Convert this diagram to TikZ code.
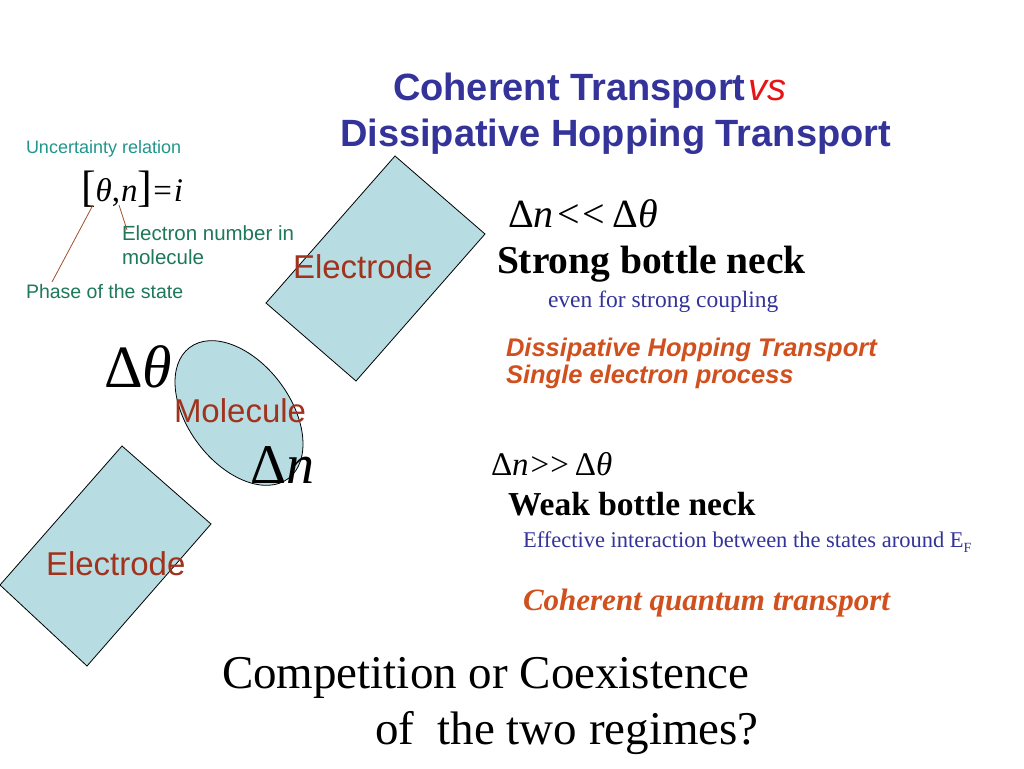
\documentclass[tikz,border=0pt]{standalone}
\usepackage{fontspec}
\setmainfont{Liberation Serif}
\setsansfont{Liberation Sans}
\definecolor{titleblue}{HTML}{333399}
\definecolor{vsred}{HTML}{E61414}
\definecolor{tealA}{HTML}{20968C}
\definecolor{tealB}{HTML}{1E785A}
\definecolor{linebrown}{HTML}{A0502F}
\definecolor{eltext}{HTML}{A0321E}
\definecolor{shapefill}{HTML}{B7DDE2}
\definecolor{orng}{HTML}{D0501E}
\newcommand{\fsz}[1]{\fontsize{#1}{#1}\selectfont}
\tikzset{
  txt/.style={anchor=base west, inner sep=0pt, outer sep=0pt},
  shapebox/.style={fill=shapefill, draw=black, line width=0.8pt, line join=miter},
  callout/.style={draw=linebrown, line width=0.8pt},
  partlabel/.style={txt, font=\sffamily\fsz{33}, text=eltext},
}
\begin{document}
\begin{tikzpicture}[x=1pt,y=-1pt]
\useasboundingbox (0,0) rectangle (1024,768);
\fill[white] (0,0) rectangle (1024,768);
% shapes
\draw[shapebox] (395,156) -- (485,234) -- (356,381) -- (266,303) -- cycle;
\draw[shapebox] (122,446) -- (211,524) -- (87,666) -- (0,585) -- cycle;
\draw[shapebox, rotate around={-53:(239,413)}] (239,413) ellipse [x radius=82, y radius=51];
% title
\node[txt, font=\sffamily\bfseries\fsz{38}, text=titleblue] (t1) at (393,100) {Coherent Transport\kern3pt\textcolor{vsred}{\mdseries\itshape vs}};
\node[txt, font=\sffamily\bfseries\fsz{38}, text=titleblue] (t2) at (340,146) {Dissipative Hopping Transport};
% uncertainty relation
\node[txt, font=\sffamily\fsz{18}, text=tealA] (ur) at (26,153) {Uncertainty relation};
\node[txt] (eq) at (81,201) {\fsz{33}{\fsz{44}[}\textit{θ},\kern1pt\textit{n}{\fsz{44}]}\kern1pt=\kern2pt\textit{i}};
\coordinate (thetapt) at (93,205);
\coordinate (npt) at (119,205);
\node[txt, font=\sffamily\fsz{20.5}, text=tealB, align=left] (en) at (122,240) {Electron number in};
\node[txt, font=\sffamily\fsz{20.5}, text=tealB] (en2) at (122,264) {molecule};
\node[txt, font=\sffamily\fsz{19.5}, text=tealB] (ph) at (26,298) {Phase of the state};
\coordinate (phend) at (52,282);
\coordinate (enend) at (127,230);
\draw[callout] (thetapt) -- (phend);
\draw[callout] (npt) -- (enend);
% part labels
\node[partlabel] (e1) at (293,278) {Electrode};
\node[partlabel] (mol) at (174,422) {Molecule};
\node[partlabel] (e2) at (46,575) {Electrode};
\node[txt, font=\fsz{60}] (dth) at (104,387) {Δ\textit{θ}};
\node[txt, font=\fsz{56}] (dn) at (250,483) {Δ\textit{n}};
% right column upper
\node[txt, font=\fsz{40}] (r1) at (508,227) {Δ\textit{n}\kern4pt<\kern2pt<\kern8pt Δ\textit{θ}};
\node[txt, font=\bfseries\fsz{39.5}] (r2) at (497,273) {Strong bottle neck};
\node[txt, font=\fsz{23.5}, text=titleblue] (r3) at (548,307) {even for strong coupling};
\node[txt, font=\sffamily\bfseries\itshape\fsz{25.5}, text=orng] (r4) at (506,356) {Dissipative Hopping Transport};
\node[txt, font=\sffamily\bfseries\itshape\fsz{25.5}, text=orng] (r5) at (506,383) {Single electron process};
% right column lower
\node[txt, font=\fsz{33}] (s1) at (491,475) {Δ\textit{n}\kern2pt>\kern1pt>\kern6pt Δ\textit{θ}};
\node[txt, font=\bfseries\fsz{33.5}] (s2) at (508,515) {Weak bottle neck};
\node[txt, font=\fsz{22.5}, text=titleblue] (s3) at (523,547) {Effective interaction between the states around E\raisebox{-0.25em}{\fsz{14}F}};
\node[txt, font=\bfseries\itshape\fsz{31}, text=orng] (s4) at (523,610) {Coherent quantum transport};
% bottom question
\node[txt, font=\fsz{47}] (q1) at (222,688) {Competition or Coexistence};
\node[txt, font=\fsz{47}] (q2) at (375,744) {of\ \ the two regimes?};
\end{tikzpicture}
\end{document}
